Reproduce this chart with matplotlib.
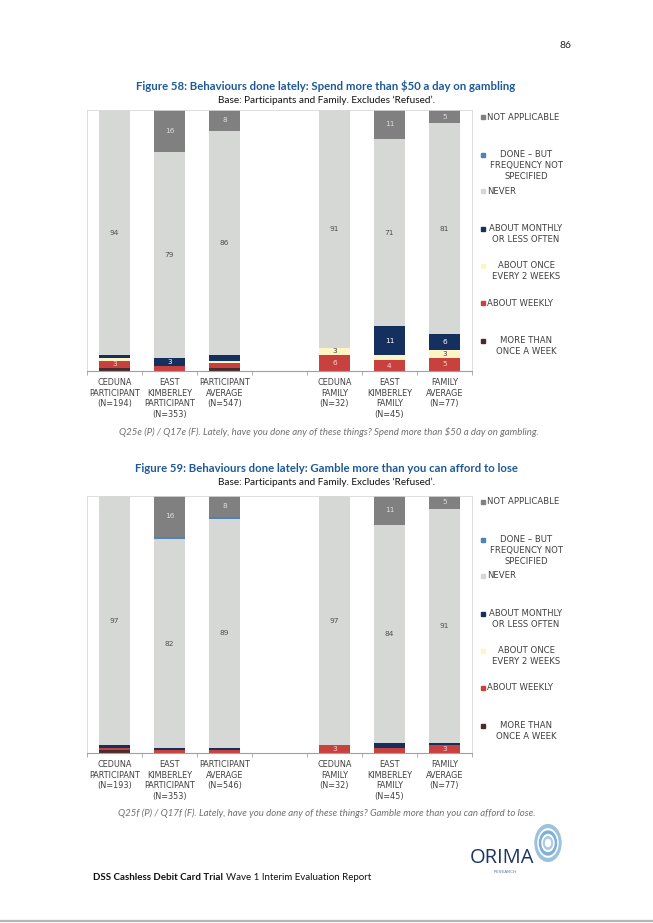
import numpy as np
import matplotlib
matplotlib.use("Agg")
import matplotlib.pyplot as plt
from matplotlib.patches import Rectangle, Circle

W, H = 653, 923

# ---- datos ----
categorias_58 = ["CEDUNA\nPARTICIPANT\n(N=194)", "EAST\nKIMBERLEY\nPARTICIPANT\n(N=353)",
                 "PARTICIPANT\nAVERAGE\n(N=547)", "CEDUNA\nFAMILY\n(N=32)",
                 "EAST\nKIMBERLEY\nFAMILY\n(N=45)", "FAMILY\nAVERAGE\n(N=77)"]
categorias_59 = ["CEDUNA\nPARTICIPANT\n(N=193)", "EAST\nKIMBERLEY\nPARTICIPANT\n(N=353)",
                 "PARTICIPANT\nAVERAGE\n(N=546)", "CEDUNA\nFAMILY\n(N=32)",
                 "EAST\nKIMBERLEY\nFAMILY\n(N=45)", "FAMILY\nAVERAGE\n(N=77)"]

series = ["MORE THAN\nONCE A WEEK", "ABOUT WEEKLY", "ABOUT ONCE\nEVERY 2 WEEKS",
          "ABOUT MONTHLY\nOR LESS OFTEN", "NEVER", "DONE \u2013 BUT\nFREQUENCY NOT\nSPECIFIED",
          "NOT APPLICABLE"]
colores = ["#4a2b2e", "#c8413f", "#fdf5c4", "#15305e", "#d6d8d5", "#4f81bd", "#7f807f"]
colores_txt = ["#ffffff", "#f4d4d2", "#404040", "#ffffff", "#505050", "#ffffff", "#dcdcdc"]

more_58 = [1, 0, 1, 0, 0, 0]
weekly_58 = [3, 2, 2, 6, 4, 5]
fortnight_58 = [1, 0, 1, 3, 2, 3]
monthly_58 = [1, 3, 2, 0, 11, 6]
never_58 = [94, 79, 86, 91, 71, 81]
dbfns_58 = [0, 0, 0, 0, 0, 0]
na_58 = [0, 16, 8, 0, 11, 5]

more_59 = [1, 0, 0, 0, 0, 0]
weekly_59 = [1, 1, 1, 3, 2, 3]
fortnight_59 = [0, 0, 0, 0, 0, 0]
monthly_59 = [1, 1, 1, 0, 2, 1]
never_59 = [97, 82, 89, 97, 84, 91]
dbfns_59 = [0, 1, 1, 0, 0, 0]
na_59 = [0, 16, 8, 0, 11, 5]

posiciones = [0, 1, 2, 4, 5, 6]

fig = plt.figure(figsize=(W / 100, H / 100), dpi=100)
fig.patch.set_facecolor("white")


def fx(x):
    return x / W


def fy(y):
    return 1 - y / H


def txt(x, y, s, **kw):
    fig.text(fx(x), fy(y), s, **kw)


def grafica(top, bottom, datos, categorias, y_leyenda, y_cat):
    ax = fig.add_axes([fx(87), fy(bottom), fx(472) - fx(87), fy(top) - fy(bottom)])
    datos = np.array(datos, dtype=float)
    # columnas 100% apiladas
    pct = datos / datos.sum(axis=0) * 100
    base = np.zeros(len(posiciones))
    for i in range(len(series)):
        ax.bar(posiciones, pct[i], 0.56, bottom=base, color=colores[i], linewidth=0)
        for j, p in enumerate(posiciones):
            if datos[i, j] >= 3:
                ax.text(p, base[j] + pct[i, j] / 2, f"{int(datos[i, j])}", ha="center",
                        va="center", fontsize=5.3, color=colores_txt[i])
        base += pct[i]
    ax.set_xlim(-0.5, 6.5)
    ax.set_ylim(0, 100)
    ax.set_yticks([])
    ax.set_xticks(np.arange(-0.5, 7, 1))
    ax.set_xticklabels([])
    ax.tick_params(axis="x", length=3, width=0.6, color="#a0a0a0", direction="out")
    for s in ["top", "left", "right"]:
        ax.spines[s].set_color("#d8d8d8")
        ax.spines[s].set_linewidth(0.6)
    ax.spines["bottom"].set_color("#a0a0a0")
    ax.spines["bottom"].set_linewidth(0.8)

    # etiquetas de categorías
    for p, c in zip(posiciones, categorias):
        ax.text(p, -(y_cat - bottom) / (bottom - top), c, transform=ax.get_xaxis_transform(),
                ha="center", va="top", fontsize=5.9, color="#404040", linespacing=1.22)

    # leyenda manual (de arriba hacia abajo)
    dy_ley = [0, 38, 74, 112, 149, 186, 224]
    for k, i in enumerate(range(len(series) - 1, -1, -1)):
        y = y_leyenda + dy_ley[k]
        fig.patches.append(Rectangle((fx(481), fy(y + 2)), fx(4), 4 / H, color=colores[i],
                                     transform=fig.transFigure, figure=fig))
        if "\n" in series[i]:
            txt(526, y - 5, series[i], ha="center", va="top", fontsize=6.1,
                color="#404040", linespacing=1.3, multialignment="center")
        else:
            txt(487, y, series[i], ha="left", va="center", fontsize=6.1, color="#404040")


# ---- texto de la página ----
txt(566, 45, "86", ha="center", va="center", fontsize=7.5, color="#222222", family="Lato")

azul = "#1f5a96"
txt(326, 86, "Figure 58: Behaviours done lately: Spend more than $50 a day on gambling",
    ha="center", va="center", fontsize=8.2, weight="bold", color=azul, family="Lato")
txt(326, 100, "Base: Participants and Family. Excludes \u2018Refused\u2019.",
    ha="center", va="center", fontsize=7.2, color="#111111", family="Lato")

datos_58 = [more_58, weekly_58, fortnight_58, monthly_58, never_58, dbfns_58, na_58]
grafica(110, 371, datos_58, categorias_58, 117, 378)

txt(329, 432, "Q25e (P) / Q17e (F). Lately, have you done any of these things? "
    "Spend more than $50 a day on gambling.", ha="center", va="center", fontsize=6.9,
    style="italic", color="#707070", family="Lato")

txt(326, 468, "Figure 59: Behaviours done lately: Gamble more than you can afford to lose",
    ha="center", va="center", fontsize=8.2, weight="bold", color=azul, family="Lato")
txt(326, 482, "Base: Participants and Family. Excludes \u2018Refused\u2019.",
    ha="center", va="center", fontsize=7.2, color="#111111", family="Lato")

datos_59 = [more_59, weekly_59, fortnight_59, monthly_59, never_59, dbfns_59, na_59]
grafica(496, 753, datos_59, categorias_59, 502, 760)

txt(327, 813, "Q25f (P) / Q17f (F). Lately, have you done any of these things? "
    "Gamble more than you can afford to lose.", ha="center", va="center", fontsize=6.9,
    style="italic", color="#707070", family="Lato")

# pie de página
t = fig.text(fx(93), fy(877), "DSS Cashless Debit Card Trial", ha="left", va="center",
             fontsize=7.0, weight="bold", color="#111111", family="Lato")
fig.canvas.draw()
bb = t.get_window_extent()
fig.text(bb.x1 / W + fx(2.5), fy(877), "Wave 1 Interim Evaluation Report", ha="left",
         va="center", fontsize=7.0, color="#111111", family="Lato")

# logotipo ORIMA
for r, c in [(13, "#9cc3de"), (10, "#ffffff"), (8.5, "#7fb0d4"), (6, "#ffffff"),
             (4.5, "#a9cde6"), (2.5, "#ffffff")]:
    fig.patches.append(Circle((fx(548), fy(843)), r / W, color=c,
                              transform=fig.transFigure, figure=fig))
txt(502, 858, "ORIMA", ha="center", va="center", fontsize=14.5, color="#1d3563",
    family="Open Sans")
txt(505, 872, "RESEARCH", ha="center", va="center", fontsize=3.2, color="#5a7da0")

# línea inferior
fig.add_artist(plt.Line2D([0, 1], [fy(921), fy(921)], color="#b5b5b5", linewidth=1.6,
                          transform=fig.transFigure))

plt.savefig("out.png", dpi=100)
